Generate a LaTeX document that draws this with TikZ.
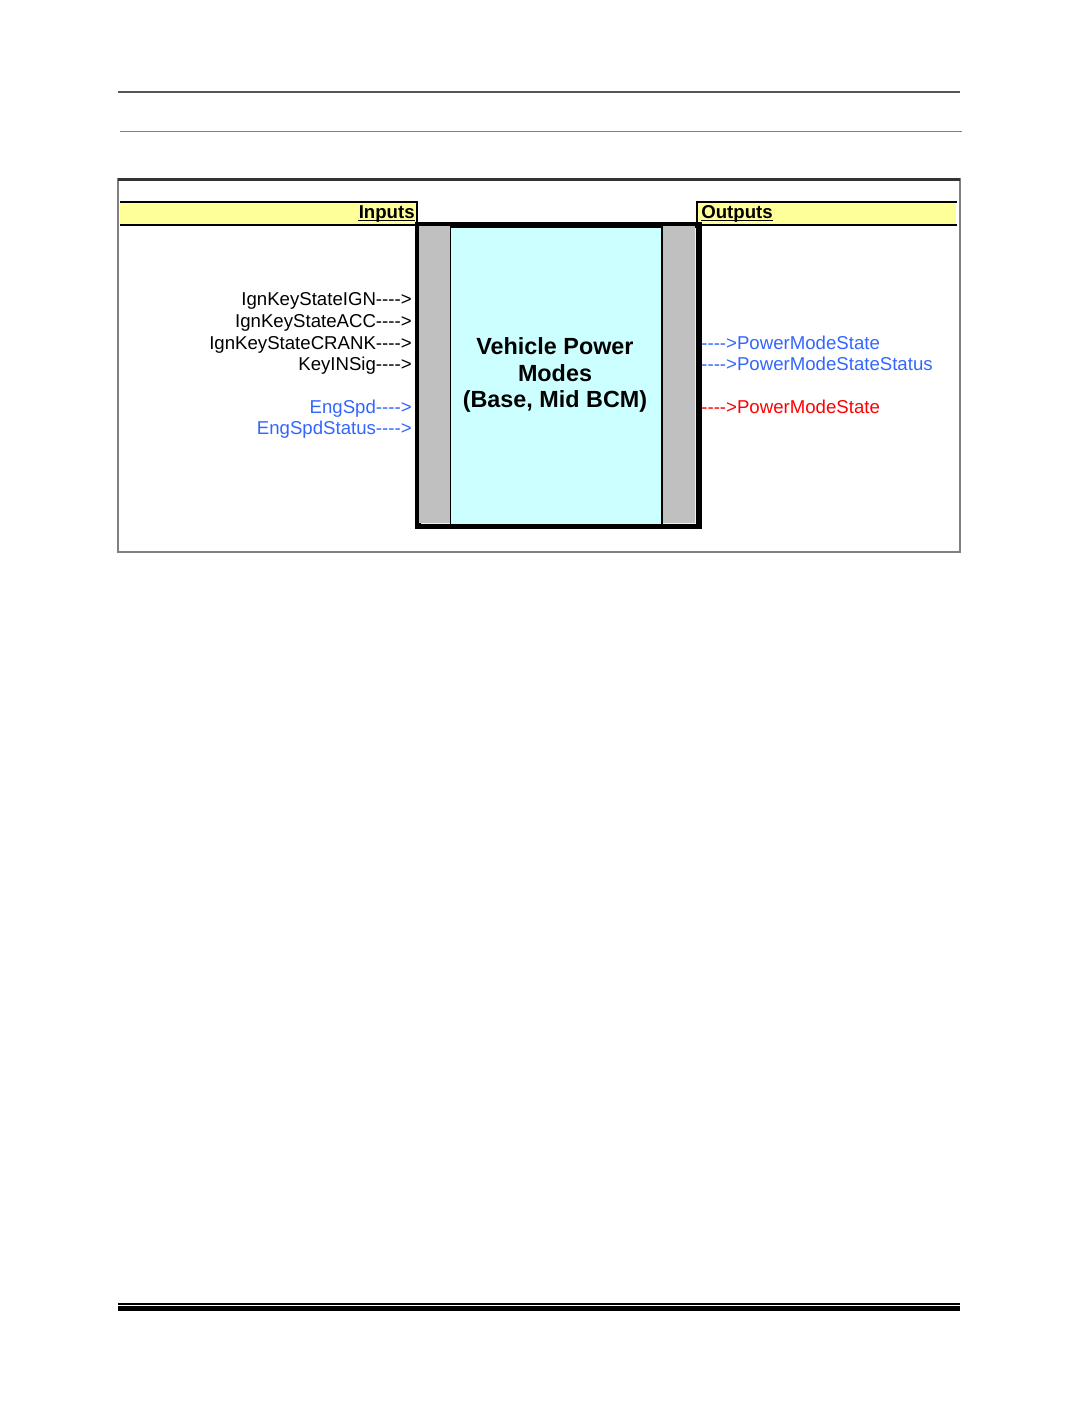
\documentclass[tikz,border=0pt]{standalone}
\usepackage{fontspec}
\newfontfamily\arialfont{Liberation Sans}
\usepackage{tikz}
\usetikzlibrary{positioning}
\usepackage{xcolor}
\definecolor{pmyellow}{RGB}{255,255,153}
\definecolor{pmcyan}{RGB}{204,255,255}
\definecolor{pmgray}{RGB}{192,192,192}
\definecolor{pmblue}{RGB}{51,102,255}
\definecolor{pmred}{RGB}{255,0,0}
\definecolor{pmrule}{RGB}{85,85,85}
\tikzstyle{sigin} = [anchor=base east, inner sep=0pt, font=\arialfont\fontsize{10.6}{12}\selectfont]
\tikzstyle{sigout} = [anchor=base west, inner sep=0pt, font=\arialfont\fontsize{10.6}{12}\selectfont]
\tikzstyle{headbar} = [rectangle, inner sep=0pt, fill=pmyellow, minimum height=0.44cm]
\tikzstyle{headtext} = [inner sep=0pt, font=\arialfont\bfseries\fontsize{10.6}{12}\selectfont]
\tikzstyle{edge} = [line width=1.1pt, black]
\tikzstyle{uline} = [line width=0.6pt, black]

\begin{document}
\begin{tikzpicture}[x=0.02cm, y=-0.02cm]
\useasboundingbox (0,0) rectangle (1075,1422);
\fill[white] (0,0) rectangle (1075,1422);

% Page rules
\draw[pmrule, line width=0.75pt] (118,92) -- (960,92);
\draw[gray, line width=1.1pt] (120,131.5) -- (962,131.5);
\draw[black, line width=0.85pt] (118,1304) -- (960,1304);
\draw[black, line width=2.8pt] (118,1308.5) -- (960,1308.5);

% Frame
\draw[gray, line width=0.6pt] (118,179) rectangle (960,552);
\draw[black!80, line width=1.3pt] (118,179.5) -- (960,179.5);

% Headers
\node[headbar, minimum width=5.92cm, anchor=north west] (inbar) at (120,202) {};
\node[headbar, minimum width=5.18cm, anchor=north west] (outbar) at (697,202) {};
\draw[edge] (inbar.north west) -- (inbar.north east) -- (inbar.south east) -- (inbar.south west);
\draw[edge] (outbar.north east) -- (outbar.north west) -- (outbar.south west) -- (outbar.south east);
\node[headtext, anchor=base east] (inlabel) at (415,219) {Inputs};
\node[headtext, anchor=base west] (outlabel) at (701,219) {Outputs};
\draw[uline] ([yshift=-0.9pt]inlabel.base west) -- ([yshift=-0.9pt]inlabel.base east);
\draw[uline] ([yshift=-0.9pt]outlabel.base west) -- ([yshift=-0.9pt]outlabel.base east);

% Block
\node[rectangle, draw=black, line width=2pt, fill=pmcyan, minimum width=5.59cm, minimum height=6.0cm, anchor=north west, inner sep=0pt] (pm) at (417,224) {};
\fill[pmgray] (418.5,225) rectangle (450,523);
\fill[pmgray] (662,225) rectangle (695,523);
\draw[black, line width=0.7pt] (450.5,224) -- (450.5,524);
\draw[black, line width=0.7pt] (662,224) -- (662,524);
\draw[black, line width=2pt] (pm.north west) rectangle (pm.south east);
\node[align=center, inner sep=0pt, font=\arialfont\bfseries\fontsize{13.3}{15.3}\selectfont] (pmtitle) at (555,375) {Vehicle Power\\Modes\\(Base, Mid BCM)};

% Inputs
\node[sigin] (ign) at (412,306) {IgnKeyStateIGN---->};
\node[sigin] (acc) at (412,327) {IgnKeyStateACC---->};
\node[sigin] (crank) at (412,349) {IgnKeyStateCRANK---->};
\node[sigin] (keyin) at (412,370) {KeyINSig---->};
\node[sigin, pmblue] (engspd) at (412,413) {EngSpd---->};
\node[sigin, pmblue] (engstat) at (412,434) {EngSpdStatus---->};

% Outputs
\node[sigout, pmblue] (pmstate) at (701,349) {---->PowerModeState};
\node[sigout, pmblue] (pmstatus) at (701,370) {---->PowerModeStateStatus};
\node[sigout, pmred] (pmstatered) at (701,413) {---->PowerModeState};
\end{tikzpicture}
\end{document}
